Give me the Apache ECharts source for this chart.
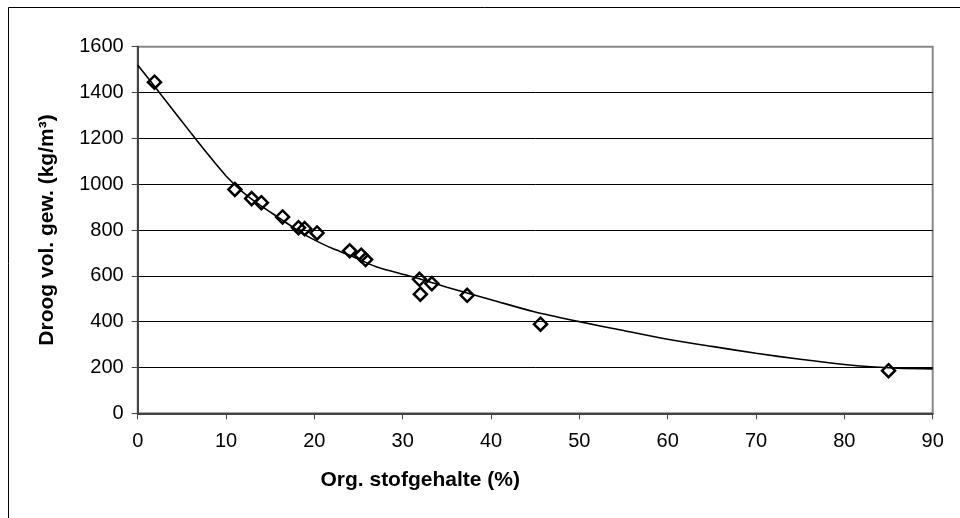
<!DOCTYPE html>
<html>
<head>
<meta charset="utf-8">
<script src="https://cdn.jsdelivr.net/npm/echarts@6/dist/echarts.min.js"></script>
<style>
  html, body { margin: 0; padding: 0; background: #fff; }
  #chart { width: 960px; height: 518px; }
</style>
</head>
<body>
<div id="chart"></div>
<script>
// ---- Data ----
var xTitle = 'Org. stofgehalte (%)';
var yTitle = 'Droog vol. gew. (kg/m³)';

var xTicks = [0, 10, 20, 30, 40, 50, 60, 70, 80, 90];
var yTicks = [0, 200, 400, 600, 800, 1000, 1200, 1400, 1600];

// measured samples (Org. stofgehalte %, droog vol. gew. kg/m3)
var sampleX = [1.9, 11.0, 12.9, 14.0, 16.4, 18.2, 18.9, 20.3, 24.0, 25.3, 25.8, 31.9, 32.0, 33.3, 37.3, 45.6, 85.0];
var sampleY = [1445, 977, 937, 919, 857, 810, 806, 787, 709, 690, 671, 585, 520, 566, 515, 389, 186];

// trend line
var trendX = [0, 3, 6, 8, 10, 12, 14, 16, 18.4, 20, 22, 24, 27, 31, 35, 40, 45, 50, 55, 60, 65, 70, 75, 80, 83, 86, 90];
var trendY = [1520, 1373, 1225, 1128, 1036, 962, 904, 853, 791, 757, 720, 690, 640, 597, 550, 496, 442, 400, 361, 323, 292, 262, 236, 213, 203, 197, 194];

function pairs(xs, ys) {
  var out = [];
  for (var i = 0; i < xs.length; i++) out.push([xs[i], ys[i]]);
  return out;
}

var FONT = '"Liberation Sans", Arial, sans-serif';
var chart = echarts.init(document.getElementById('chart'), null, { renderer: 'canvas' });

chart.setOption({
  backgroundColor: '#ffffff',
  animation: false,
  textStyle: { fontFamily: FONT },
  graphic: [{
    type: 'rect',
    silent: true,
    z: -10,
    shape: { x: 8.5, y: 7.5, width: 1200, height: 800 },
    style: { fill: 'none', stroke: '#000', lineWidth: 1 }
  }],
  grid: {
    left: 137.7, right: 27.3, top: 46.7, bottom: 104.7,
    containLabel: false,
    outerBoundsMode: 'none',
    show: true,
    backgroundColor: 'transparent',
    borderColor: '#888888',
    borderWidth: 2
  },
  xAxis: {
    type: 'value',
    min: xTicks[0], max: xTicks[xTicks.length - 1], interval: 10,
    name: xTitle,
    nameLocation: 'middle',
    nameGap: 56,
    nameTextStyle: { fontFamily: FONT, fontSize: 21, fontWeight: 'bold', color: '#000', padding: [0, 230, 0, 0] },
    axisLine: { show: true, onZero: false, lineStyle: { color: '#444', width: 2 } },
    axisTick: { show: true, inside: false, length: 6, lineStyle: { color: '#444', width: 1 } },
    axisLabel: { fontFamily: FONT, fontSize: 20, color: '#000', margin: 18, formatter: function (v) { return String(v); } },
    splitLine: { show: false }
  },
  yAxis: {
    type: 'value',
    min: yTicks[0], max: yTicks[yTicks.length - 1], interval: 200,
    name: yTitle,
    nameLocation: 'middle',
    nameRotate: 90,
    nameGap: 80,
    nameTextStyle: { fontFamily: FONT, fontSize: 21, fontWeight: 'bold', color: '#000' },
    axisLine: { show: true, onZero: false, lineStyle: { color: '#444', width: 2 } },
    axisTick: { show: true, inside: false, length: 6, lineStyle: { color: '#444', width: 1 } },
    axisLabel: { fontFamily: FONT, fontSize: 20, color: '#000', margin: 14, formatter: function (v) { return String(v); } },
    splitLine: { show: true, showMinLine: false, showMaxLine: false, lineStyle: { color: '#000', width: 1 } }
  },
  series: [
    {
      name: 'samples',
      type: 'scatter',
      data: pairs(sampleX, sampleY),
      symbol: 'diamond',
      symbolSize: [13, 13],
      itemStyle: { color: 'rgba(255,255,255,0)', borderColor: '#000', borderWidth: 2.5, opacity: 1 },
      z: 3
    },
    {
      name: 'trend',
      type: 'line',
      data: pairs(trendX, trendY),
      smooth: 0.3,
      showSymbol: false,
      symbol: 'none',
      lineStyle: { color: '#000', width: 1.6 },
      z: 4
    }
  ]
});
</script>
</body>
</html>
